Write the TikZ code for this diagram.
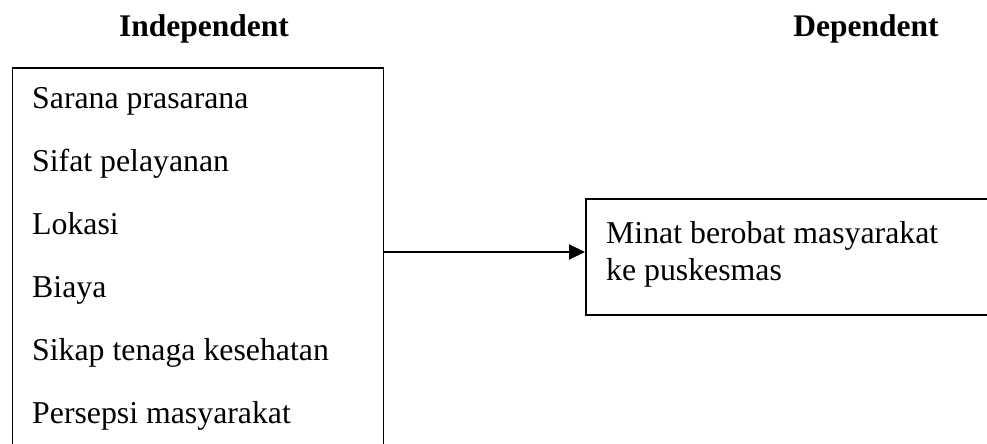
\documentclass[tikz,border=0pt]{standalone}
\usepackage{fontspec}
\setmainfont{Liberation Serif}
\usetikzlibrary{arrows.meta}
\begin{document}
\begin{tikzpicture}[x=1pt,y=-1pt,
  boxline/.style={draw=black, line width=1.8pt, rectangle, inner sep=0pt},
  itemtext/.style={anchor=base west, inner sep=0pt, font=\fontsize{31.8}{37}\selectfont},
  headtext/.style={anchor=base, inner sep=0pt, font=\fontsize{31.5}{37}\selectfont\bfseries},
  conn/.style={draw=black, line width=2pt, -{Triangle[length=16pt,width=15pt]}}]
\useasboundingbox[fill=white] (0,0) rectangle (987,444);
% headings
\node[headtext] (hin) at (204,37) {Independent};
\node[headtext] (hdep) at (866,37) {Dependent};
% left box
\node[boxline, anchor=north west, minimum width=371pt, minimum height=420pt] (indep) at (11.5,67) {};
\node[itemtext] (i1) at (32,108) {Sarana prasarana};
\node[itemtext] (i2) at (32,171) {Sifat pelayanan};
\node[itemtext] (i3) at (32,234) {Lokasi};
\node[itemtext] (i4) at (32,297) {Biaya};
\node[itemtext] (i5) at (32,360) {Sikap tenaga kesehatan};
\node[itemtext] (i6) at (32,423) {Persepsi masyarakat};
% right box
\node[boxline, anchor=north west, minimum width=420pt, minimum height=116pt] (dep) at (585,198) {};
\node[itemtext] (d1) at (606,243) {Minat berobat masyarakat};
\node[itemtext] (d2) at (606,280) {ke puskesmas};
% connector
\coordinate (ay) at (0,252);
\draw[conn] (indep.east |- ay) -- (dep.west |- ay);
\end{tikzpicture}
\end{document}
